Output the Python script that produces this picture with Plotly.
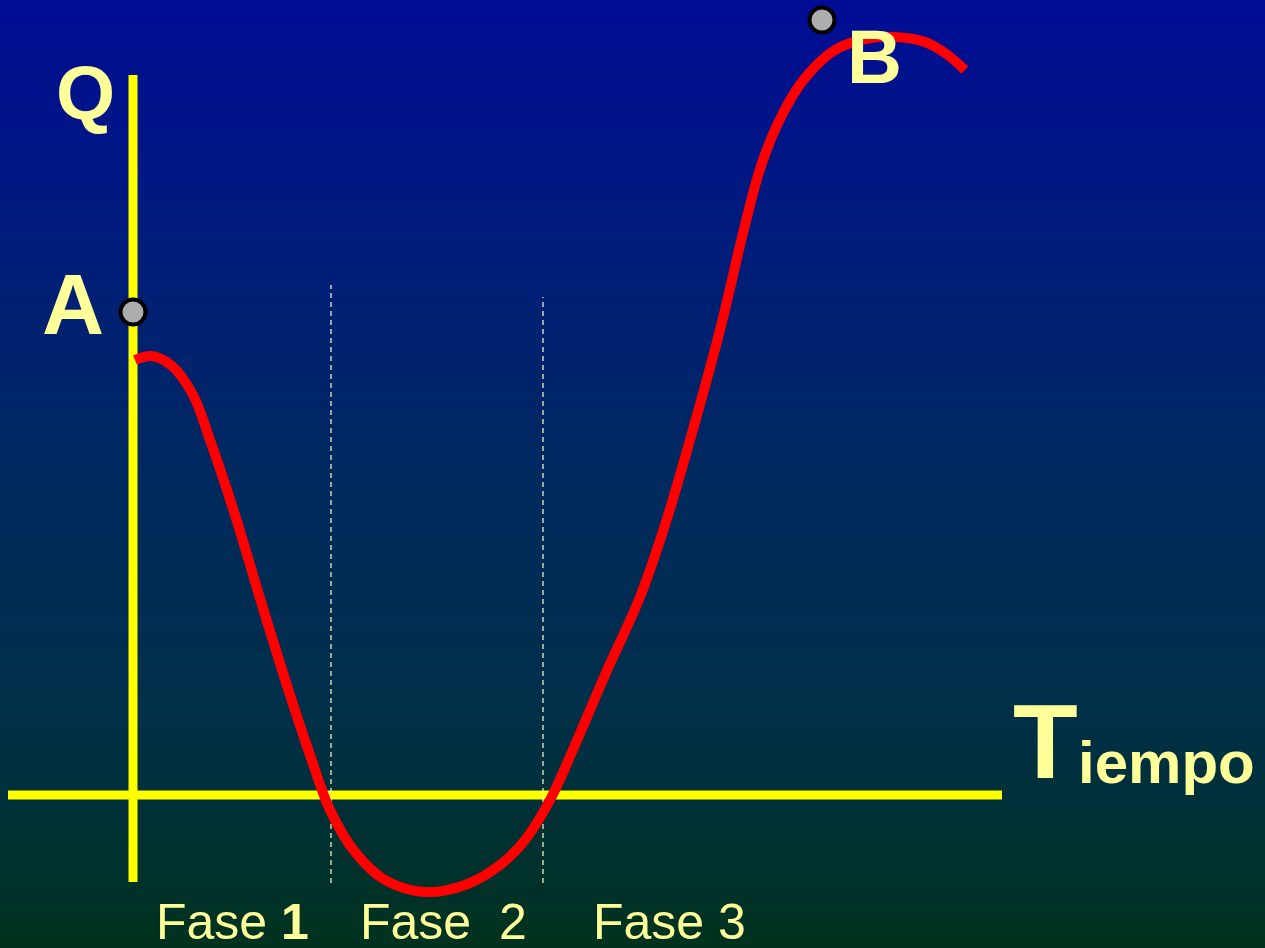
import plotly.graph_objects as go
import numpy as np

# curve Q(t), arbitrary units, origin at the axes crossing
t_curve = [0.2, 1.9, 3.9, 6.0, 7.7, 10.2, 12.9, 15.7, 17.7, 19.7, 22.2, 25.2, 29.2, 33.2,
           36.7, 39.2, 41.7, 44.2, 47.2, 50.7, 53.2, 55.7, 58.7, 61.2, 62.9, 64.9, 67.2,
           70.2, 73.2, 76.2, 79.2, 81.2, 83.2]
q_curve = [43.5, 43.9, 42.9, 40.0, 35.5, 28.0, 19.0, 10.0, 4.0, -1.5, -5.7, -8.5, -9.7, -9.0,
           -7.0, -4.5, -0.5, 5.0, 12.0, 19.8, 27.0, 35.5, 46.5, 57.0, 63.2, 68.0, 71.7,
           74.5, 75.6, 75.8, 75.3, 74.2, 72.5]

point_names = ["A", "B"]
point_t = [0.0, 68.9]
point_q = [48.3, 77.5]

phase_bounds = [19.8, 41.0]
phase_tops = [51.0, 49.8]
phase_labels = ["Fase <b>1</b>", "Fase&nbsp;&nbsp;2", "Fase 3"]
phase_label_t = [9.9, 31.0, 53.6]

x_range = [-13.3, 113.2]
y_range = [-15.3, 79.5]

TXT = "#FFFF99"
YEL = "#FFFF00"

fig = go.Figure()

# background gradient (blue top -> dark green bottom)
gy = np.linspace(y_range[0], y_range[1], 60)
fig.add_trace(go.Heatmap(
    x=x_range, y=gy, z=[[v, v] for v in gy],
    colorscale=[[0, "#00321E"], [0.25, "#002F48"], [0.5, "#00295E"],
                [0.75, "#001C7C"], [1, "#000C94"]],
    zsmooth="best", showscale=False, hoverinfo="skip",
))

# axes
fig.add_trace(go.Scatter(x=[-12.5, 86.9], y=[0, 0], mode="lines",
                         line=dict(color=YEL, width=9), hoverinfo="skip"))
fig.add_trace(go.Scatter(x=[0, 0], y=[-8.7, 72.0], mode="lines",
                         line=dict(color=YEL, width=9), hoverinfo="skip"))

# phase separators
for tb, top in zip(phase_bounds, phase_tops):
    fig.add_trace(go.Scatter(x=[tb, tb], y=[-8.8, top], mode="lines",
                             line=dict(color="#FFFFCC", width=1.2, dash="5px,4px"),
                             hoverinfo="skip"))

# curve
fig.add_trace(go.Scatter(x=t_curve, y=q_curve, mode="lines",
                         line=dict(color="#FF0000", width=10, shape="spline", smoothing=1.0)))

# points A, B
fig.add_trace(go.Scatter(x=point_t, y=point_q, mode="markers",
                         marker=dict(size=25, color="#ADADAD",
                                     line=dict(color="black", width=4))))

fnt = "Liberation Sans, Arial, sans-serif"
ann = [
    dict(x=-4.8, y=70.3, text="<b>Q</b>", size=76),
    dict(x=-6.0, y=49.1, text="<b>A</b>", size=86),
    dict(x=74.1, y=73.9, text="<b>B</b>", size=76),
    dict(x=91.2, y=5.4, text="<b>T</b>", size=106),
]
for a in ann:
    fig.add_annotation(x=a["x"], y=a["y"], text=a["text"], showarrow=False,
                       font=dict(family=fnt, size=a["size"], color=TXT))
fig.add_annotation(x=94.3, y=3.3, text="<b>iempo</b>", showarrow=False, xanchor="left",
                   font=dict(family=fnt, size=60, color=TXT))
for lab, tx in zip(phase_labels, phase_label_t):
    fig.add_annotation(x=tx, y=-12.7, text=lab, showarrow=False,
                       font=dict(family=fnt, size=50, color=TXT))

fig.update_layout(
    width=1265, height=948,
    margin=dict(l=0, r=0, t=0, b=0),
    showlegend=False,
    plot_bgcolor="#001E60", paper_bgcolor="#001E60",
    xaxis=dict(range=x_range, visible=False, fixedrange=True),
    yaxis=dict(range=y_range, visible=False, fixedrange=True),
)

fig.write_html("out.html", config={"displayModeBar": False},
               post_script="document.body.style.margin='0';")
